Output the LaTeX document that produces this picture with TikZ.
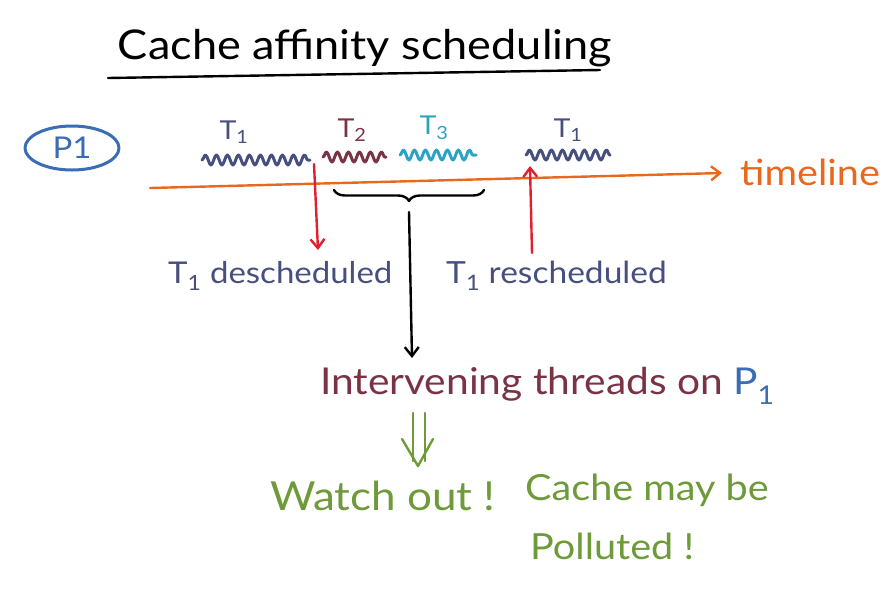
\documentclass[tikz,border=0pt]{standalone}
\usepackage{fontspec}
\setmainfont[FakeStretch=1.1]{Lato}
\usetikzlibrary{arrows.meta,shapes.geometric,decorations.pathmorphing,decorations.pathreplacing}
\definecolor{tblue}{HTML}{474F7E}
\definecolor{tmaroon}{HTML}{7A3344}
\definecolor{tteal}{HTML}{2BA3C4}
\definecolor{pblue}{HTML}{3A6DB5}
\definecolor{torange}{HTML}{E8691E}
\definecolor{tred}{HTML}{E02030}
\definecolor{tgreen}{HTML}{6E9A3A}
\newcommand{\fsz}[1]{\fontsize{#1}{#1}\selectfont}
\tikzset{
  hand/.style={line width=2.4pt, line cap=round, line join=round},
  wave/.style={hand, line width=3pt, decorate, decoration={snake, amplitude=5pt, segment length=11pt}},
  lbl/.style={inner sep=0pt, anchor=west},
  tlbl/.style={inner sep=0pt, font=\fsz{26}},
  tip/.style={-{Straight Barb[length=9pt,width=14pt,line width=2.4pt]}},
}
\begin{document}
\begin{tikzpicture}[x=1pt,y=-1pt]
\useasboundingbox (0,0) rectangle (896,606);
% title
\node[inner sep=0pt, font=\fsz{41}] (title) at (365,48) {Cache affinity scheduling};
\coordinate (ul1) at (108,78);
\coordinate (ul2) at (600,70);
\draw[hand] (ul1) -- (ul2);
% P1
\node[draw=pblue, text=pblue, hand, line width=3pt, ellipse, minimum width=94pt, minimum height=44pt, inner sep=0pt, font=\fsz{30}] (p1) at (72,148) {P1};
% labels above waves
\node[tlbl, text=tblue] (t1a) at (234,132) {T\textsubscript{1}};
\node[tlbl, text=tmaroon] (t2) at (352,130) {T\textsubscript{2}};
\node[tlbl, text=tteal] (t3) at (434,128) {T\textsubscript{3}};
\node[tlbl, text=tblue] (t1b) at (568,130) {T\textsubscript{1}};
% waves
\coordinate (w1s) at (202,160); \coordinate (w1e) at (310,160);
\coordinate (w2s) at (323,157); \coordinate (w2e) at (386,157);
\coordinate (w3s) at (400,155); \coordinate (w3e) at (476,155);
\coordinate (w4s) at (526,155); \coordinate (w4e) at (610,155);
\draw[wave, tblue] (w1s) -- (w1e);
\draw[wave, tmaroon] (w2s) -- (w2e);
\draw[wave, tteal] (w3s) -- (w3e);
\draw[wave, tblue] (w4s) -- (w4e);
% timeline
\coordinate (tls) at (150,188);
\coordinate (tle) at (722,173);
\draw[hand, torange, tip] (tls) -- (tle);
\node[lbl, text=torange, font=\fsz{36}] (tl) at (740,172) {timeline};
% descheduled / rescheduled
\node[lbl, text=tblue, font=\fsz{30}] (desch) at (168,276) {T\textsubscript{1} descheduled};
\node[lbl, text=tblue, font=\fsz{30.5}] (resch) at (446,276) {T\textsubscript{1} rescheduled};
\coordinate (dtop) at (314,164);
\coordinate (dbot) at (318,250);
\draw[hand, tred, tip] (dtop) -- (dbot);
\coordinate (rbot) at (532,253);
\coordinate (rtop) at (530,166);
\draw[hand, tred, tip] (rbot) -- (rtop);
% brace
\coordinate (bl) at (334,190);
\coordinate (br) at (484,190);
\draw[hand, decorate, decoration={brace, mirror, amplitude=11pt, aspect=0.5}] (bl) -- (br);
\coordinate (btip) at (409,212);
% intervening
\node[lbl, text=tmaroon, font=\fsz{37}] (interv) at (320,386) {Intervening threads on \textcolor{pblue}{P\textsubscript{1}}};
\coordinate (iarr) at (412,358);
\draw[hand, tip] (btip) -- (iarr);
% double arrow
\coordinate (da) at (419,413);
\draw[hand, tgreen] ([shift={(-6,0)}]da) -- ++(0,48);
\draw[hand, tgreen] ([shift={(6,0)}]da) -- ++(0,48);
\draw[hand, tgreen] ([shift={(-17,26)}]da) -- ([shift={(-1,53)}]da) -- ([shift={(14,26)}]da);
% green text
\node[lbl, text=tgreen, font=\fsz{40}] (watch) at (270,496) {Watch out !};
\node[lbl, text=tgreen, font=\fsz{36}] (cache) at (525,490) {Cache may be};
\node[lbl, text=tgreen, font=\fsz{36}] (poll) at (530,546) {Polluted !};
\end{tikzpicture}
\end{document}
